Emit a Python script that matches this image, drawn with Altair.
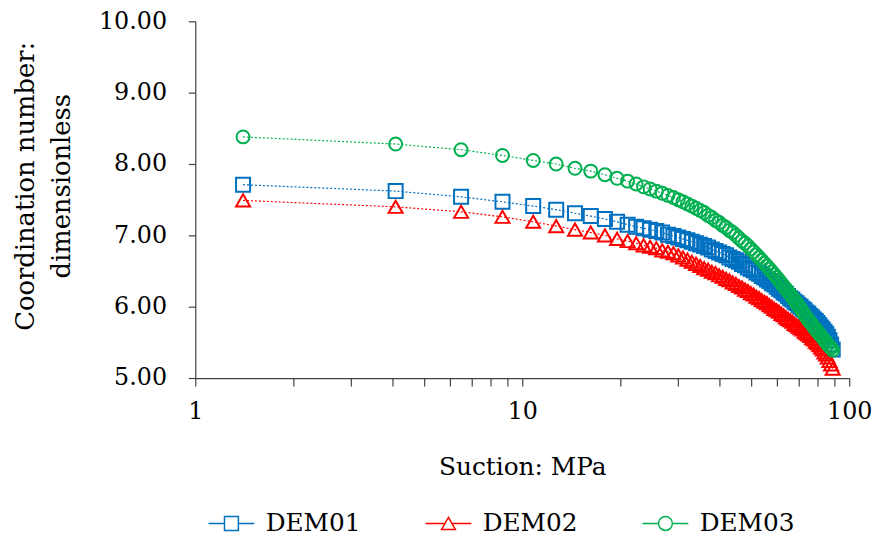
import altair as alt
import pandas as pd

suction = [1.4, 4.1, 6.5, 8.7, 10.8, 12.7, 14.5, 16.2, 17.9, 19.5, 21.0, 22.3, 23.5, 24.6, 25.7, 26.8, 27.9, 29.0,
           30, 31, 32, 33, 34, 35, 36, 37, 38, 39,
           40, 41, 42, 43, 44, 45, 46, 47, 48, 49,
           50, 51, 52, 53, 54, 55, 56, 57, 58, 59,
           60, 61, 62, 63, 64, 65, 66, 67, 68, 69,
           70, 71, 72, 73, 74, 75, 76, 77, 78, 79,
           80, 81, 82, 83, 84, 85, 86, 87, 88, 89]

dem01 = [7.71, 7.62, 7.54, 7.47, 7.41, 7.36, 7.31, 7.27, 7.23, 7.19, 7.15, 7.12, 7.10, 7.08, 7.06, 7.04, 7.01, 6.99,
         6.97, 6.95, 6.93, 6.91, 6.89, 6.87, 6.85, 6.83, 6.80, 6.78,
         6.76, 6.74, 6.72, 6.69, 6.67, 6.65, 6.63, 6.60, 6.58, 6.55,
         6.53, 6.51, 6.48, 6.46, 6.43, 6.41, 6.38, 6.36, 6.33, 6.31,
         6.28, 6.25, 6.23, 6.20, 6.18, 6.15, 6.12, 6.10, 6.07, 6.05,
         6.02, 6.00, 5.97, 5.95, 5.92, 5.90, 5.87, 5.85, 5.82, 5.80,
         5.77, 5.74, 5.71, 5.68, 5.65, 5.62, 5.58, 5.53, 5.47, 5.40]

dem02 = [7.49, 7.40, 7.33, 7.26, 7.19, 7.13, 7.08, 7.04, 7.00, 6.95, 6.92, 6.89, 6.86, 6.84, 6.82, 6.79, 6.77, 6.75,
         6.72, 6.69, 6.66, 6.63, 6.60, 6.57, 6.54, 6.52, 6.49, 6.47,
         6.44, 6.42, 6.39, 6.37, 6.34, 6.32, 6.29, 6.27, 6.24, 6.22,
         6.19, 6.17, 6.14, 6.12, 6.09, 6.07, 6.05, 6.02, 6.00, 5.97,
         5.95, 5.93, 5.90, 5.88, 5.85, 5.83, 5.81, 5.79, 5.76, 5.74,
         5.72, 5.70, 5.68, 5.65, 5.63, 5.61, 5.59, 5.56, 5.54, 5.51,
         5.49, 5.46, 5.43, 5.40, 5.36, 5.33, 5.29, 5.24, 5.19, 5.13]

dem03 = [8.38, 8.28, 8.20, 8.12, 8.05, 8.00, 7.94, 7.90, 7.85, 7.80, 7.76, 7.72, 7.68, 7.65, 7.62, 7.59, 7.56, 7.53,
         7.50, 7.47, 7.44, 7.41, 7.38, 7.35, 7.32, 7.28, 7.25, 7.21,
         7.18, 7.14, 7.11, 7.07, 7.04, 7.00, 6.96, 6.92, 6.89, 6.85,
         6.81, 6.77, 6.73, 6.69, 6.65, 6.61, 6.57, 6.53, 6.49, 6.45,
         6.41, 6.37, 6.33, 6.29, 6.25, 6.21, 6.17, 6.13, 6.09, 6.05,
         6.01, 5.97, 5.93, 5.89, 5.85, 5.81, 5.78, 5.75, 5.71, 5.68,
         5.65, 5.62, 5.59, 5.56, 5.53, 5.50, 5.47, 5.44, 5.42, 5.39]

series_names = ["DEM01", "DEM02", "DEM03"]
series_colors = ["#0070C0", "#FF0000", "#00B050"]
series_shapes = ["square", "triangle-up", "circle"]
legend_paths = [
    "M-3.3,0H-1M1,0H3.3M-1,-1H1V1H-1Z",
    "M-3.3,0H-0.55M0.55,0H3.3M0,-0.87L1,0.87H-1Z",
    "M-3.3,0H-1M1,0H3.3M1,0A1,1 0 1,1 -1,0A1,1 0 1,1 1,0Z",
]
x_tick_values = [1, 2, 3, 4, 5, 6, 7, 8, 9, 10, 20, 30, 40, 50, 60, 70, 80, 90, 100]
y_tick_values = [5, 6, 7, 8, 9, 10]

rows = []
for name, vals in zip(series_names, [dem01, dem02, dem03]):
    for s, v in zip(suction, vals):
        rows.append({"Suction": s, "CN": v, "Series": name})
df = pd.DataFrame(rows)

FONT = "DejaVu Serif"
AX = "#404040"

x_enc = alt.X(
    "Suction:Q",
    scale=alt.Scale(type="log", domain=[1, 100]),
    axis=alt.Axis(
        values=x_tick_values,
        labelExpr="(datum.value == 1 || datum.value == 10 || datum.value == 100) ? format(datum.value, 'd') : ''",
        title="Suction: MPa",
        titleFontSize=25,
        grid=False,
        tickSize=8,
        labelPadding=14,
        titlePadding=31,
        labelFlush=False,
        labelOverlap=False,
    ),
)
y_enc = alt.Y(
    "CN:Q",
    scale=alt.Scale(domain=[5, 10], nice=False, zero=False),
    axis=alt.Axis(
        values=y_tick_values,
        format=".2f",
        title=["Coordination number:", "dimensionless"],
        titleFontSize=26,
        grid=False,
        tickSize=7,
        labelPadding=22,
        titlePadding=24,
        titleLineHeight=37,
        titleY=166,
    ),
)

layers = []
for name, col, shp in zip(series_names, series_colors, series_shapes):
    base = alt.Chart(df).transform_filter(alt.datum.Series == name)
    line = base.mark_line(color=col, strokeDash=[2, 2], strokeWidth=1.2).encode(
        x=x_enc, y=y_enc, order="Suction:Q"
    )
    size = 170 if shp == "circle" else 200
    pts = base.mark_point(shape=shp, filled=False, color=col, size=size, strokeWidth=2, opacity=1).encode(
        x=x_enc, y=y_enc
    )
    layers += [line, pts]

legend_props = dict(
    title=None,
    orient="none",
    legendX=24,
    legendY=494,
    direction="horizontal",
    symbolSize=196,
    symbolStrokeWidth=1.5,
    labelFont=FONT,
    labelFontSize=25,
    labelColor="black",
    labelOffset=22,
    columnPadding=62,
    padding=0,
)
legend_layer = (
    alt.Chart(df)
    .transform_filter("datum.CN > 100")
    .mark_point(filled=False, strokeWidth=1.5, opacity=1)
    .encode(
        x=x_enc,
        y=y_enc,
        color=alt.Color("Series:N", scale=alt.Scale(domain=series_names, range=series_colors),
                        legend=alt.Legend(**legend_props)),
        shape=alt.Shape("Series:N", scale=alt.Scale(domain=series_names, range=legend_paths),
                        legend=alt.Legend(**legend_props)),
    )
)
layers.append(legend_layer)

chart = (
    alt.layer(*layers)
    .properties(
        width=660,
        height=360,
        autosize=alt.AutoSizeParams(type="none"),
        padding={"left": 189, "top": 11, "right": 27, "bottom": 160},
    )
    .configure_view(stroke=None)
    .configure_axis(
        labelFont=FONT,
        labelFontSize=24,
        labelColor="black",
        titleFont=FONT,
        titleFontWeight="normal",
        titleColor="black",
        domainColor=AX,
        tickColor=AX,
        domainWidth=1.2,
        tickWidth=1.2,
    )
    .configure_legend(labelFont=FONT)
)

chart.save("out.html", embed_options={"renderer": "svg", "actions": False})
